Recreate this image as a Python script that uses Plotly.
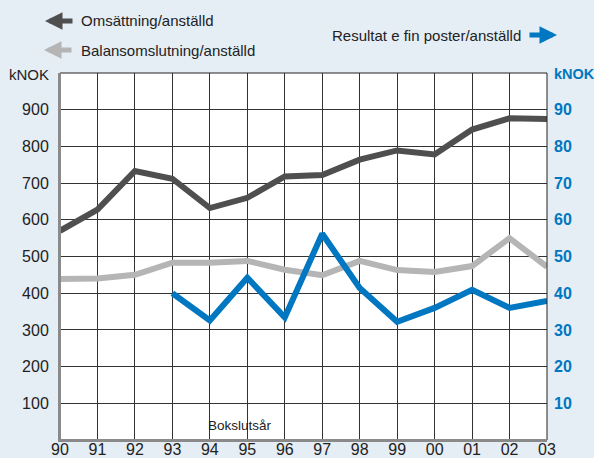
import plotly.graph_objects as go

years = list(range(1990, 2004))
year_labels = ["90", "91", "92", "93", "94", "95", "96", "97", "98", "99", "00", "01", "02", "03"]

omsattning = [570, 628, 733, 712, 632, 660, 718, 722, 764, 789, 778, 846, 877, 875]
balans = [439, 440, 450, 483, 483, 488, 464, 449, 488, 463, 458, 474, 550, 472]
resultat_years = list(range(1993, 2004))
resultat = [40, 32.6, 44.2, 33.4, 56.2, 41.4, 32.2, 36, 40.9, 36, 37.9]

left_ticks = [100, 200, 300, 400, 500, 600, 700, 800, 900]
right_ticks = [10, 20, 30, 40, 50, 60, 70, 80, 90]

BG = "#e5edf5"
DARK = "#4f4f4f"
LIGHT = "#b5b5b5"
BLUE = "#0077c0"
FONT = "Liberation Sans, Arial, sans-serif"

fig = go.Figure()
fig.add_trace(go.Scatter(x=years, y=balans, mode="lines",
                         line=dict(color=LIGHT, width=6), yaxis="y", showlegend=False))
fig.add_trace(go.Scatter(x=years, y=omsattning, mode="lines",
                         line=dict(color=DARK, width=6), yaxis="y", showlegend=False))
fig.add_trace(go.Scatter(x=resultat_years, y=resultat, mode="lines",
                         line=dict(color=BLUE, width=6), yaxis="y2", showlegend=False))

L, R, T, B = 60, 47, 73, 18
W, H = 594, 458
pw, ph = W - L - R, H - T - B

def px(x):
    return (x - L) / pw

def py(y):
    return 1 - (y - T) / ph

fig.update_layout(
    width=W, height=H,
    margin=dict(l=L, r=R, t=T, b=B, autoexpand=False),
    paper_bgcolor=BG, plot_bgcolor="white",
    font=dict(family=FONT, color="#222222", size=15),
    xaxis=dict(range=[1990, 2003], tickvals=years, ticktext=year_labels,
               showgrid=True, gridcolor="#333333", gridwidth=1,
               showline=True, linecolor="#8a8a8a", linewidth=2,
               ticks="", zeroline=False, tickfont=dict(size=16, color="#222222"),
               ticklabelstandoff=-6, automargin=False),
    yaxis=dict(range=[0, 1000], tickvals=left_ticks,
               showgrid=True, gridcolor="#333333", gridwidth=1,
               showline=True, linecolor="#8a8a8a", linewidth=2,
               ticks="", zeroline=False, tickfont=dict(size=16, color="#222222"),
               ticklabelstandoff=6, automargin=False),
    yaxis2=dict(range=[0, 100], tickvals=right_ticks,
                ticktext=[f"<b>{v}</b>" for v in right_ticks],
                overlaying="y", side="right",
                showgrid=False, showline=False, ticks="", zeroline=False,
                tickfont=dict(size=16, color=BLUE),
                ticklabelstandoff=6, automargin=False),
)

fig.add_shape(type="rect", xref="paper", yref="paper", x0=0, y0=0, x1=1, y1=1,
              line=dict(color="#222222", width=1), layer="above")
fig.add_shape(type="line", xref="paper", yref="paper", x0=0, y0=0, x1=0, y1=1,
              line=dict(color="#8a8a8a", width=2), layer="above")
fig.add_shape(type="line", xref="paper", yref="paper", x0=0, y0=0, x1=1, y1=0,
              line=dict(color="#8a8a8a", width=2), layer="above")

ann = []
ann.append(dict(text="kNOK", xref="paper", yref="paper", x=px(51), y=py(74),
                xanchor="right", yanchor="middle", showarrow=False,
                font=dict(size=15, color="#222222")))
ann.append(dict(text="<b>kNOK</b>", xref="paper", yref="paper", x=px(552), y=py(74),
                xanchor="left", yanchor="middle", showarrow=False,
                font=dict(size=14.5, color=BLUE)))
ann.append(dict(text="Bokslutsår", xref="paper", yref="paper", x=px(206), y=py(425),
                xanchor="left", yanchor="middle", showarrow=False,
                font=dict(size=13.5, color="#222222")))
ann.append(dict(text="Omsättning/anställd", xref="paper", yref="paper", x=px(79), y=py(21),
                xanchor="left", yanchor="middle", showarrow=False,
                font=dict(size=15, color="#222222")))
ann.append(dict(text="Balansomslutning/anställd", xref="paper", yref="paper", x=px(79), y=py(50),
                xanchor="left", yanchor="middle", showarrow=False,
                font=dict(size=15, color="#222222")))
ann.append(dict(text="Resultat e fin poster/anställd", xref="paper", yref="paper", x=px(523), y=py(35),
                xanchor="right", yanchor="middle", showarrow=False,
                font=dict(size=15, color="#222222")))
for hx, hy, dx, col in [(45, 21, 29, DARK), (44, 50, 29, LIGHT), (557, 35, -29, BLUE)]:
    ann.append(dict(text="", xref="paper", yref="paper", x=px(hx), y=py(hy),
                    ax=dx, ay=0, showarrow=True, arrowhead=2, arrowsize=0.7,
                    arrowwidth=5, arrowcolor=col, standoff=0))

fig.update_layout(annotations=ann)
fig.write_html("out.html", config={"displayModeBar": False},
               post_script="document.body.style.margin='0';document.body.style.overflow='hidden';")
